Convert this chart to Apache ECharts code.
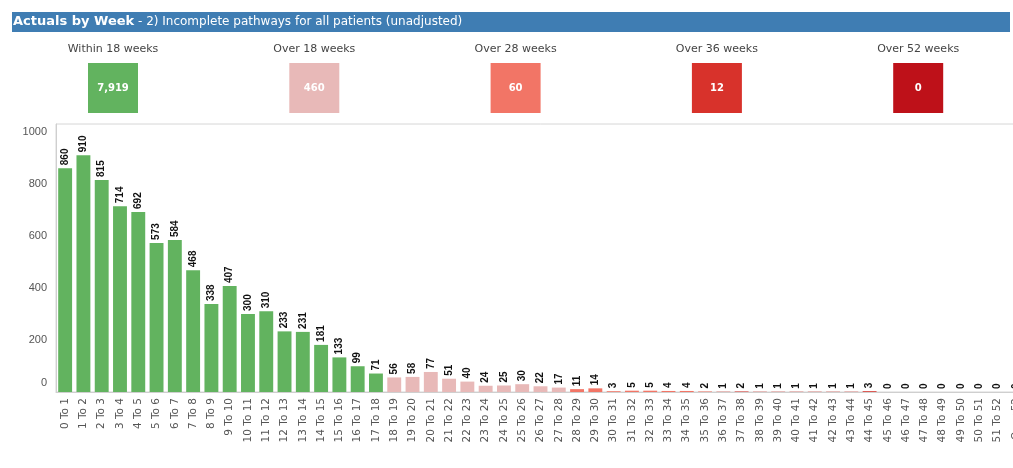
<!DOCTYPE html>
<html>
<head>
<meta charset="utf-8">
<script src="https://cdn.jsdelivr.net/npm/echarts@6/dist/echarts.min.js"></script>
<style>
  html, body { margin: 0; padding: 0; background: #fff; overflow: hidden; }
  /* the original screenshot crops the last bucket, so the chart runs past the window */
  #main { width: 1030px; height: 468px; }
</style>
</head>
<body>
<div id="main"></div>
<script>
// weekly buckets
const weeks = [];
for (let i = 0; i < 52; i++) weeks.push(i + ' To ' + (i + 1));
weeks.push('Over 52');

const patients = [
  860, 910, 815, 714, 692, 573, 584, 468, 338, 407,
  300, 310, 233, 231, 181, 133, 99, 71, 56, 58,
  77, 51, 40, 24, 25, 30, 22, 17, 11, 14,
  3, 5, 5, 4, 4, 2, 1, 2, 1, 1,
  1, 1, 1, 1, 3, 0, 0, 0, 0, 0,
  0, 0, 0
];

// summary boxes
const kpiLabels = ['Within 18 weeks', 'Over 18 weeks', 'Over 28 weeks', 'Over 36 weeks', 'Over 52 weeks'];
const kpiValues = ['7,919', '460', '60', '12', '0'];
const kpiColors = ['#62b35f', '#e8b9b8', '#f27566', '#d8322b', '#be1119'];

// week at which each colour band starts
const bandStarts = [0, 18, 28, 36, 52];

function bandColor(idx) {
  let b = 0;
  bandStarts.forEach((s, i) => { if (idx >= s) b = i; });
  return kpiColors[b];
}

const myChart = echarts.init(document.getElementById('main'));

// header + kpi boxes
const graphics = [
  {
    type: 'rect',
    shape: { x: 12, y: 12, width: 998, height: 20 },
    style: { fill: '#3f7db3' }
  },
  {
    type: 'text',
    x: 13, y: 22,
    style: {
      text: '{a|Actuals by Week}{b| - 2) Incomplete pathways for all patients (unadjusted)}',
      verticalAlign: 'middle',
      rich: {
        a: { fill: '#fff', fontFamily: 'DejaVu Sans', fontSize: 13, fontWeight: 'bold' },
        b: { fill: '#fff', fontFamily: 'DejaVu Sans', fontSize: 12 }
      }
    }
  }
];
kpiLabels.forEach((lab, i) => {
  const cx = 113 + i * 201.3;
  graphics.push({
    type: 'text', x: cx, y: 49,
    style: { text: lab, align: 'center', verticalAlign: 'middle', fill: '#444', fontFamily: 'DejaVu Sans', fontSize: 11 }
  });
  graphics.push({
    type: 'rect',
    shape: { x: cx - 25, y: 63, width: 50, height: 50 },
    style: { fill: kpiColors[i] }
  });
  graphics.push({
    type: 'text', x: cx, y: 88,
    style: { text: kpiValues[i], align: 'center', verticalAlign: 'middle', fill: '#fff', fontFamily: 'DejaVu Sans', fontSize: 10, fontWeight: 'bold' }
  });
});

const option = {
  backgroundColor: '#fff',
  animation: false,
  graphic: graphics,
  grid: {
    left: 56, right: 5, top: 124, bottom: 76,
    show: true, borderColor: '#d6d6d6', borderWidth: 1
  },
  xAxis: {
    type: 'category',
    data: weeks,
    axisLine: { lineStyle: { color: '#cfcfcf' } },
    axisTick: { show: false },
    axisLabel: {
      interval: 0, rotate: 90, margin: 6,
      color: '#555', fontFamily: 'DejaVu Sans', fontSize: 10.5
    }
  },
  yAxis: {
    type: 'value',
    min: 0, max: 1030, interval: 200,
    splitLine: { show: false },
    axisLine: { show: true, lineStyle: { color: '#cfcfcf' } },
    axisLabel: {
      showMaxLabel: false, margin: 9,
      color: '#555', fontFamily: 'Liberation Sans', fontSize: 11,
      formatter: (v) => (v === 0 ? '{z|0}' : String(v)),
      rich: { z: { padding: [0, 0, 18, 0], color: '#555', fontFamily: 'Liberation Sans', fontSize: 11 } }
    }
  },
  series: [{
    type: 'bar',
    data: patients,
    barCategoryGap: '24%',
    itemStyle: { color: (p) => bandColor(p.dataIndex) },
    label: {
      show: true, position: 'top', rotate: 90,
      align: 'left', verticalAlign: 'middle', distance: 3,
      color: '#111', fontFamily: 'Liberation Sans', fontSize: 10, fontWeight: 'bold'
    }
  }]
};

myChart.setOption(option);
</script>
</body>
</html>
